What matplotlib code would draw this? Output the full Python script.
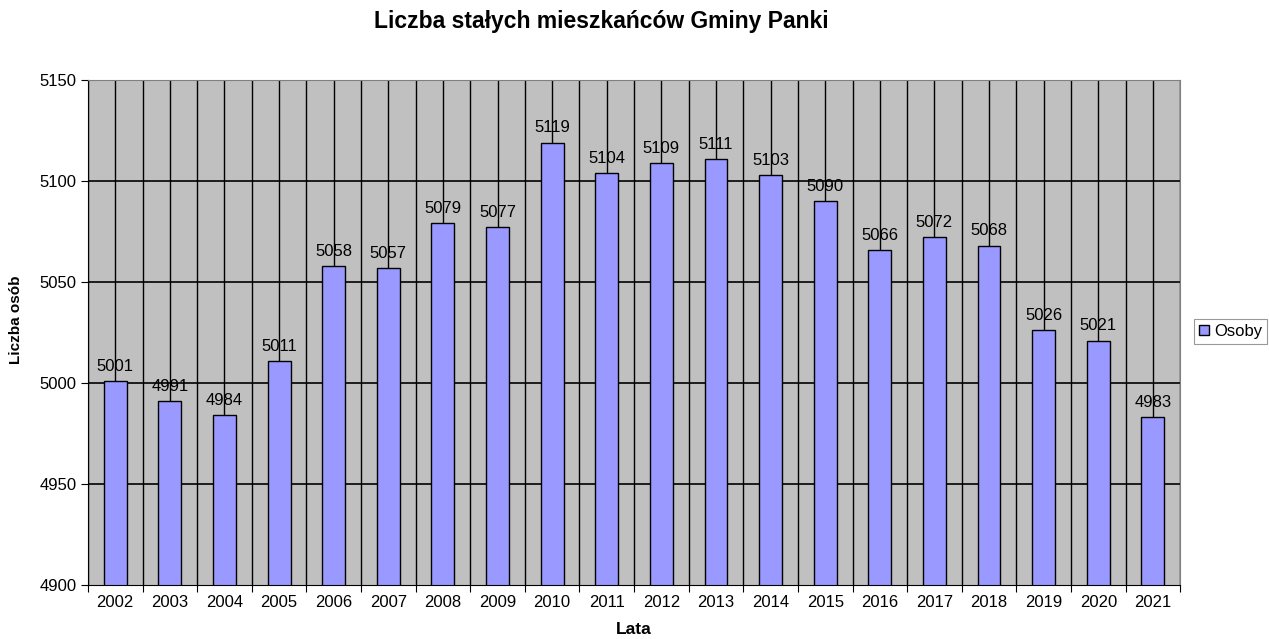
import numpy as np
import matplotlib.pyplot as plt

plt.rcParams['font.family'] = ['Liberation Sans', 'DejaVu Sans']

years = ['2002', '2003', '2004', '2005', '2006', '2007', '2008', '2009', '2010', '2011',
         '2012', '2013', '2014', '2015', '2016', '2017', '2018', '2019', '2020', '2021']
osoby = [5001, 4991, 4984, 5011, 5058, 5057, 5079, 5077, 5119, 5104,
         5109, 5111, 5103, 5090, 5066, 5072, 5068, 5026, 5021, 4983]


def main():
  fig = plt.figure(figsize=(12.69, 6.39), dpi=100)
  ax = fig.add_axes([0.0693, 0.0845, 0.8607, 0.7905])
  ax.set_facecolor('#C0C0C0')

  x = np.arange(len(years))
  ax.set_xlim(-0.5, len(years) - 0.5)
  ax.set_ylim(4900, 5150)
  ax.set_yticks(np.arange(4900, 5151, 50))

  # linie siatki: poziome, pionowe na granicach i srodkach kategorii
  for yv in np.arange(4950, 5151, 50):
    ax.axhline(yv, color='black', lw=1.2, zorder=1)
  for xv in np.arange(-0.5, len(years), 0.5):
    ax.axvline(xv, color='black', lw=1.0, zorder=1)

  ax.bar(x, osoby, width=0.42, color='#9999FF', edgecolor='black',
         lw=1.0, zorder=2, label='Osoby')
  for xi, v in zip(x, osoby):
    ax.text(xi, v + 3.5, str(v), ha='center', va='bottom', fontsize=12, zorder=3)

  ax.set_xticks(np.arange(-0.5, len(years), 1), minor=False)
  ax.set_xticklabels([])
  ax.set_xticks(x, minor=True)
  ax.set_xticklabels(years, minor=True, fontsize=12)
  ax.tick_params(axis='x', which='minor', length=0, pad=7)
  ax.tick_params(axis='x', which='major', length=5, direction='out', color='black')
  ax.tick_params(axis='y', labelsize=12, length=5, pad=3)

  for s in ax.spines.values():
    s.set_color('#808080')
  ax.spines['left'].set_color('black')
  ax.spines['bottom'].set_color('black')

  fig.text(0.474, 0.9656, 'Liczba stałych mieszkańców Gminy Panki', ha='center', va='center',
           fontsize=16.5, fontweight='bold')
  ax.set_xlabel('Lata', fontsize=12.5, fontweight='bold', labelpad=9)
  fig.text(0.013, 0.5, 'Liczba osób', rotation=90, ha='center', va='center',
           fontsize=11, fontweight='bold')

  leg = ax.legend(loc='center left', bbox_to_anchor=(1.0128, 0.502), fontsize=12,
                  frameon=True, fancybox=False, edgecolor='#808080', handlelength=0.6,
                  handleheight=0.6, handletextpad=0.3, borderpad=0.3, borderaxespad=0)
  leg.get_frame().set_linewidth(0.8)

  plt.savefig('out.png', dpi=100)


if __name__ == "__main__":
  main()
